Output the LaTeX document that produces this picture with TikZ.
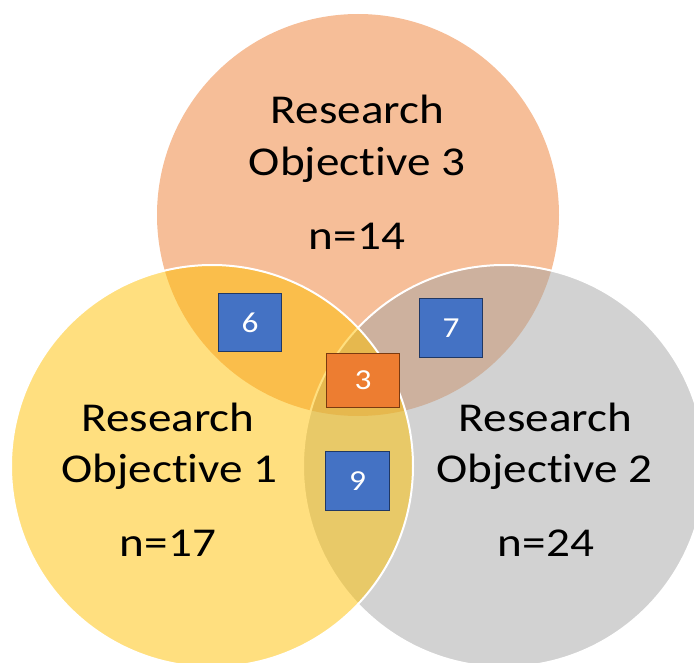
\documentclass[tikz,border=0pt]{standalone}
\usepackage{fontspec}
\setmainfont{Carlito}[Ligatures=NoCommon]
\newfontfamily\widefont{Carlito}[FakeStretch=1.15, Ligatures=NoCommon]
\definecolor{ocirc}{HTML}{ED7D31}
\definecolor{gcirc}{HTML}{A5A5A5}
\definecolor{ycirc}{HTML}{FFC000}
\definecolor{bluebox}{HTML}{4472C4}
\definecolor{blueedge}{HTML}{203864}
\definecolor{orangebox}{HTML}{ED7D31}
\definecolor{orangeedge}{HTML}{7A3A10}
\tikzset{
  venn/.style={fill opacity=0.5},
  bigtext/.style={anchor=base, inner sep=0pt, font=\widefont\fontsize{41}{50}\selectfont},
  countbox/.style={draw=blueedge, fill=bluebox, line width=1.6pt, text=white,
     inner sep=0pt, font=\widefont\fontsize{29}{34}\selectfont},
  centerbox/.style={draw=orangeedge, fill=orangebox, line width=1.6pt, text=white,
     inner sep=0pt, font=\widefont\fontsize{29}{34}\selectfont}
}
\begin{document}
\begin{tikzpicture}[x=1pt,y=-1pt]
\useasboundingbox (0,0) rectangle (694,663);
\begin{scope}
\clip (0,0) rectangle (694,663);
% circles
\fill[ocirc, venn] (358,215) circle[radius=201];
\draw[white, line width=2pt, fill=gcirc, venn] (504,466) circle[radius=201];
\draw[white, line width=2pt, fill=ycirc, venn] (212,466) circle[radius=201];
\end{scope}
% labels
\node[bigtext] (r3a) at (357.5,124) {Research};
\node[bigtext] (r3b) at (357,176) {Objective 3};
\node[bigtext] (n3) at (357,250) {n=14};
\node[bigtext] (r1a) at (168,431) {Research};
\node[bigtext] (r1b) at (169.5,482) {Objective 1};
\node[bigtext] (n1) at (168,556) {n=17};
\node[bigtext] (r2a) at (545.5,431) {Research};
\node[bigtext] (r2b) at (544.5,482) {Objective 2};
\node[bigtext] (n2) at (546,556) {n=24};
% counts
\node[countbox, minimum width=63pt, minimum height=58pt] (b6) at (250,322.5) {6};
\node[countbox, minimum width=63pt, minimum height=59pt] (b7) at (451,328) {7};
\node[countbox, minimum width=64pt, minimum height=59pt] (b9) at (357.5,481) {9};
\node[centerbox, minimum width=73pt, minimum height=54pt] (b3) at (363,380.5) {3};
\end{tikzpicture}
\end{document}
